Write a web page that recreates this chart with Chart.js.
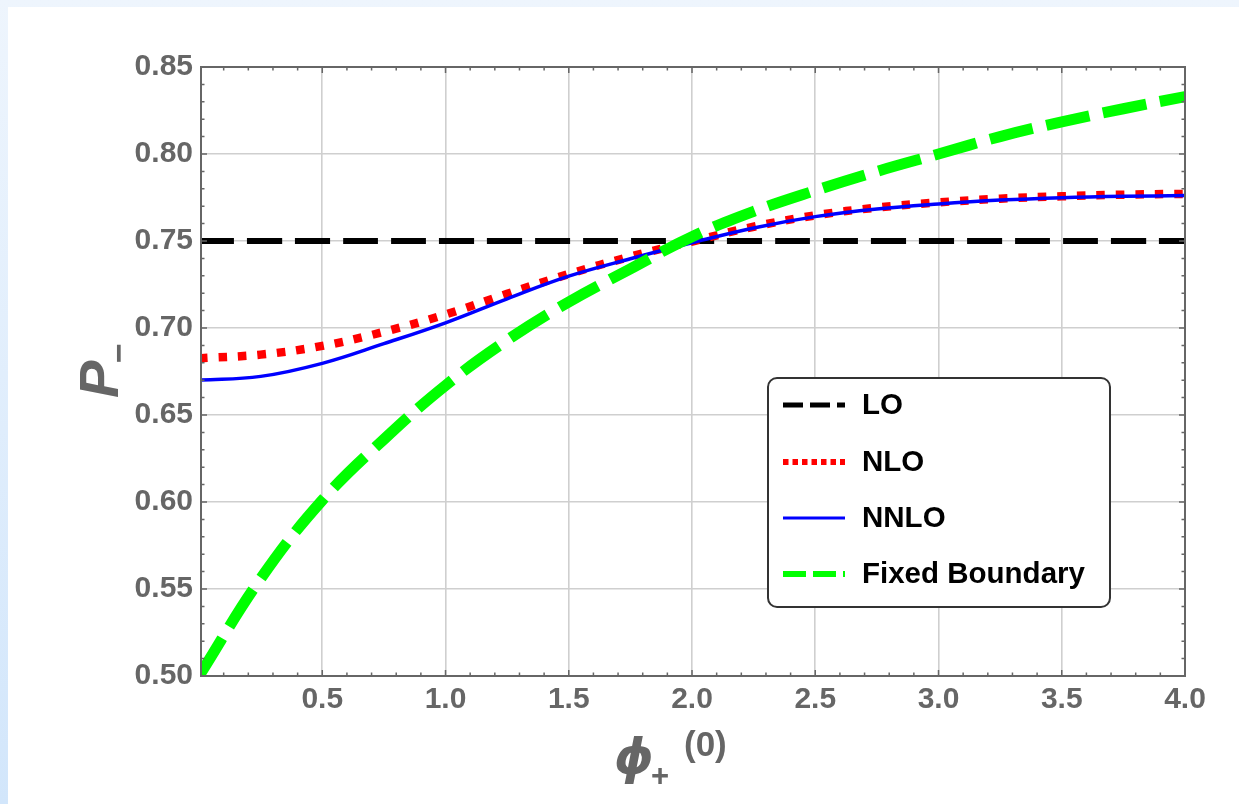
<!DOCTYPE html>
<html>
<head>
<meta charset="utf-8">
<script src="https://cdn.jsdelivr.net/npm/chart.js@4"></script>
<style>
  html, body { margin: 0; padding: 0; }
  body { width: 1239px; height: 804px; overflow: hidden; position: relative;
         background: linear-gradient(to bottom, #eef5fd, #d2e6fb); }
  #panel { position: absolute; left: 8px; top: 7px; right: 0; bottom: 0; background: #fff; }
  #wrap { position: absolute; left: 0; top: 0; width: 1239px; height: 804px; }
</style>
</head>
<body>
<div id="panel"></div>
<div id="wrap"><canvas id="myChart" width="1239" height="804"></canvas></div>
<script>
// phi_+^(0) values along the x axis
const phiValues = [0, 0.25, 0.5, 0.75, 1.0, 1.25, 1.5, 1.75, 2.0, 2.25, 2.5, 2.75, 3.0, 3.25, 3.5, 3.75, 4.0];

// P_- for each approximation
const loValues = [0.75, 0.75, 0.75, 0.75, 0.75, 0.75, 0.75, 0.75, 0.75, 0.75, 0.75, 0.75, 0.75, 0.75, 0.75, 0.75, 0.75];
const nloValues = [0.6826, 0.6847, 0.6897, 0.6978, 0.7078, 0.7196, 0.7310, 0.7410, 0.7497, 0.7582, 0.7647, 0.7692, 0.7722, 0.7743, 0.7757, 0.7766, 0.7771];
const nnloValues = [0.6700, 0.6722, 0.6797, 0.6910, 0.7030, 0.7168, 0.7298, 0.7398, 0.7490, 0.7575, 0.7640, 0.7684, 0.7713, 0.7735, 0.7749, 0.7757, 0.7761];
const fixedValues = [0.500, 0.556, 0.601, 0.636, 0.667, 0.693, 0.715, 0.734, 0.7525, 0.767, 0.779, 0.790, 0.800, 0.810, 0.8185, 0.826, 0.833];

const seriesNames = ["LO", "NLO", "NNLO", "Fixed Boundary"];

// tick labels
const xTicks = [0.5, 1.0, 1.5, 2.0, 2.5, 3.0, 3.5, 4.0];
const yTicks = [0.50, 0.55, 0.60, 0.65, 0.70, 0.75, 0.80, 0.85];

const GRAY = "#666666";
const FONT = '"Liberation Sans", Arial, "DejaVu Sans", sans-serif';

const toPoints = (vals) => phiValues.map((x, i) => ({ x: x, y: vals[i] }));

// legend samples are thinner than the plotted curves
const legendStyles = [
  { color: "#000000", width: 5, dash: [20, 7] },
  { color: "#ff0000", width: 6, dash: [5.5, 4] },
  { color: "#0000ff", width: 3, dash: [] },
  { color: "#00ff00", width: 6, dash: [23, 7] },
];

// frame + inside ticks on all four sides
const framePlugin = {
  id: "frame",
  afterDatasetsDraw(chart) {
    const { ctx, chartArea: a, scales } = chart;
    ctx.save();
    ctx.strokeStyle = GRAY;
    ctx.lineWidth = 1.5;
    // x ticks, every 0.1
    for (let i = 1; i <= 40; i++) {
      const px = scales.x.getPixelForValue(i / 10);
      const len = i % 5 === 0 ? 6 : 3.5;
      ctx.beginPath();
      ctx.moveTo(px, a.bottom); ctx.lineTo(px, a.bottom - len);
      ctx.moveTo(px, a.top); ctx.lineTo(px, a.top + len);
      ctx.stroke();
    }
    // y ticks, every 0.01
    for (let i = 50; i <= 85; i++) {
      const py = scales.y.getPixelForValue(i / 100);
      const len = i % 5 === 0 ? 6 : 3.5;
      ctx.beginPath();
      ctx.moveTo(a.left, py); ctx.lineTo(a.left + len, py);
      ctx.moveTo(a.right, py); ctx.lineTo(a.right - len, py);
      ctx.stroke();
    }
    ctx.lineWidth = 2;
    ctx.strokeRect(a.left, a.top, a.right - a.left, a.bottom - a.top);
    ctx.restore();
  },
};

// boxed legend inside the plot and the two axis labels
const annotPlugin = {
  id: "annot",
  afterDraw(chart) {
    const ctx = chart.ctx;
    ctx.save();

    // legend box
    const bx = 768, by = 378, bw = 342, bh = 229, r = 9;
    ctx.beginPath();
    ctx.moveTo(bx + r, by);
    ctx.arcTo(bx + bw, by, bx + bw, by + bh, r);
    ctx.arcTo(bx + bw, by + bh, bx, by + bh, r);
    ctx.arcTo(bx, by + bh, bx, by, r);
    ctx.arcTo(bx, by, bx + bw, by, r);
    ctx.closePath();
    ctx.fillStyle = "#ffffff";
    ctx.fill();
    ctx.lineWidth = 2;
    ctx.strokeStyle = "#333333";
    ctx.stroke();

    const rowY = [405, 462, 518, 574];
    ctx.font = "bold 29.5px " + FONT;
    ctx.textBaseline = "middle";
    ctx.textAlign = "left";
    seriesNames.forEach((name, i) => {
      const s = legendStyles[i];
      ctx.beginPath();
      ctx.setLineDash(s.dash);
      ctx.lineCap = "butt";
      ctx.lineWidth = s.width;
      ctx.strokeStyle = s.color;
      ctx.moveTo(783, rowY[i]);
      ctx.lineTo(845, rowY[i]);
      ctx.stroke();
      ctx.setLineDash([]);
      ctx.fillStyle = "#000000";
      ctx.fillText(name, 862, rowY[i] + 1);
    });

    // y axis label: P_-
    ctx.fillStyle = GRAY;
    ctx.textBaseline = "alphabetic";
    ctx.save();
    ctx.translate(118, 398);
    ctx.rotate(-Math.PI / 2);
    ctx.font = "italic bold 56px " + FONT;
    ctx.fillText("P", 0, 0);
    ctx.font = "bold 34px " + FONT;
    ctx.fillText("\u2212", 35, 12);
    ctx.restore();

    // x axis label: phi_+^(0)
    ctx.font = 'italic bold 50px "DejaVu Sans", sans-serif';
    ctx.fillText("\u03D5", 614, 774);
    ctx.font = "bold 31px " + FONT;
    ctx.fillText("+", 651, 786);
    ctx.font = "bold 35px " + FONT;
    ctx.fillText("(0)", 684, 756);

    ctx.restore();
  },
};

const ctx = document.getElementById("myChart");

const chart = new Chart(ctx, {
  type: "line",
  data: {
    datasets: [
      {
        label: seriesNames[0],
        data: toPoints(loValues),
        borderColor: "#000000",
        borderWidth: 6,
        borderDash: [35, 13],
        order: 4,
      },
      {
        label: seriesNames[1],
        data: toPoints(nloValues),
        borderColor: "#ff0000",
        borderWidth: 8.5,
        borderDash: [8.5, 11],
        order: 3,
      },
      {
        label: seriesNames[2],
        data: toPoints(nnloValues),
        borderColor: "#0000ff",
        borderWidth: 3.5,
        order: 2,
      },
      {
        label: seriesNames[3],
        data: toPoints(fixedValues),
        borderColor: "#00ff00",
        borderWidth: 11,
        borderDash: [44, 14],
        order: 1,
      },
    ],
  },
  options: {
    responsive: false,
    animation: false,
    devicePixelRatio: 1,
    layout: { padding: { top: 67, right: 54, left: 0, bottom: 0 } },
    elements: {
      point: { radius: 0 },
      line: { tension: 0.4, borderCapStyle: "butt", fill: false },
    },
    datasets: { line: { clip: 0 } },
    plugins: {
      legend: { display: false },
      tooltip: { enabled: false },
    },
    scales: {
      x: {
        type: "linear",
        min: 0.008,
        max: 4.0,
        afterBuildTicks: (scale) => { scale.ticks = xTicks.map((v) => ({ value: v })); },
        afterFit: (scale) => { scale.height = 128; },
        grid: { color: "#cfcfcf", lineWidth: 1.6, drawTicks: false },
        border: { display: false },
        ticks: {
          padding: 6,
          color: GRAY,
          font: { family: FONT, size: 30, weight: "bold" },
          callback: (v) => Number(v).toFixed(1),
          maxRotation: 0,
        },
      },
      y: {
        type: "linear",
        min: 0.5,
        max: 0.85,
        afterBuildTicks: (scale) => { scale.ticks = yTicks.map((v) => ({ value: v })); },
        afterFit: (scale) => { scale.width = 201; },
        grid: { color: "#cfcfcf", lineWidth: 1.6, drawTicks: false },
        border: { display: false },
        ticks: {
          padding: 8,
          color: GRAY,
          font: { family: FONT, size: 30, weight: "bold" },
          callback: (v) => Number(v).toFixed(2),
        },
      },
    },
  },
  plugins: [framePlugin, annotPlugin],
});
</script>
</body>
</html>
